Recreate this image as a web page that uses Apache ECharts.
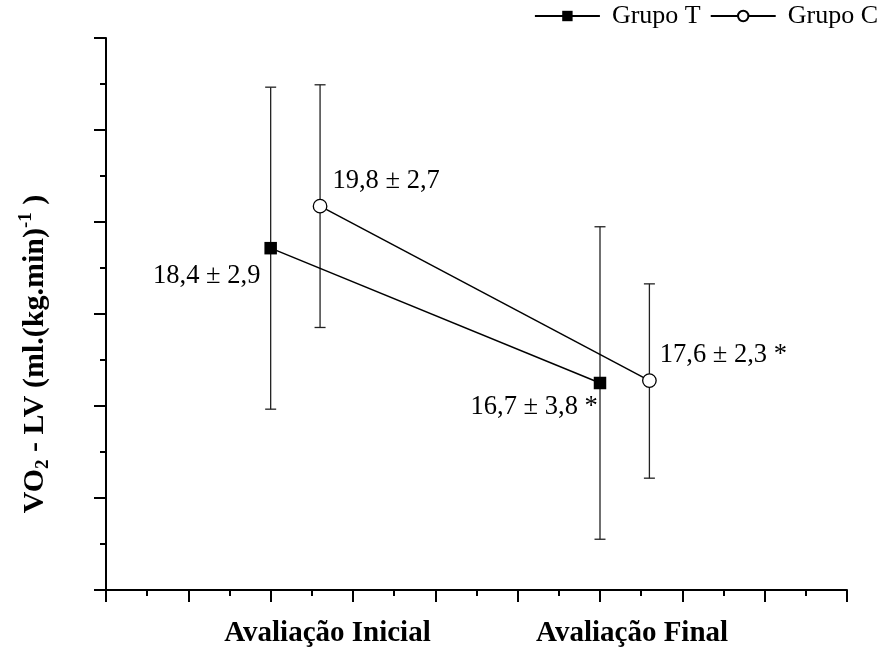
<!DOCTYPE html>
<html>
<head>
<meta charset="utf-8">
<script src="https://cdn.jsdelivr.net/npm/echarts@6/dist/echarts.min.js"></script>
<style>
html, body { margin: 0; padding: 0; background: #fff; }
#chart { width: 885px; height: 649px; }
</style>
</head>
<body>
<div id="chart"></div>
<script>
// Evaluation moments
const categories = ['Avaliação Inicial', 'Avaliação Final'];
// Group names
const groups = ['Grupo T', 'Grupo C'];
// VO2 at the ventilatory threshold: mean and standard deviation per moment
const tMean = [18.4, 16.7];
const tSd = [2.9, 3.8];
const cMean = [19.8, 17.6];
const cSd = [2.7, 2.3];
// Significance flag for each moment
const tSig = ['', '*'];
const cSig = ['', '*'];
// Lower and upper ends of the error bars
const tLow = [16.37, 14.73];
const tHigh = [20.43, 18.67];
const cLow = [18.27, 16.37];
const cHigh = [21.33, 18.82];

const SERIF = '"Liberation Serif", "Times New Roman", serif';

// Horizontal layout: each moment has a slot, group C is drawn slightly to the right
const slot = [2, 6];
const dodgeC = 0.6;
const labelAt = [2.69, 6.39];

function fmt(v) { return v.toFixed(1).replace('.', ','); }
function statText(mean, sd, sig) {
  return fmt(mean) + ' ± ' + fmt(sd) + (sig ? ' ' + sig : '');
}

function renderErrorBar(params, api) {
  const x = api.value(0);
  const top = api.coord([x, api.value(2)]);
  const bottom = api.coord([x, api.value(1)]);
  const half = 5.5;
  const style = { stroke: '#222', lineWidth: 1.3 };
  return {
    type: 'group',
    children: [
      { type: 'line', shape: { x1: top[0], y1: top[1], x2: bottom[0], y2: bottom[1] }, style: style },
      { type: 'line', shape: { x1: top[0] - half, y1: top[1], x2: top[0] + half, y2: top[1] }, style: style },
      { type: 'line', shape: { x1: bottom[0] - half, y1: bottom[1], x2: bottom[0] + half, y2: bottom[1] }, style: style }
    ]
  };
}

const tPlace = [
  { position: 'left', distance: 4, offset: [0, 28] },
  { position: 'left', distance: 0, offset: [4, 24] }
];
const cPlace = [
  { position: 'right', distance: 5, offset: [0, -25.5] },
  { position: 'right', distance: 3, offset: [0, -25.7] }
];

const tData = categories.map((c, i) => ({ value: [slot[i], tMean[i]], label: tPlace[i] }));
const cData = categories.map((c, i) => ({ value: [slot[i] + dodgeC, cMean[i]], label: cPlace[i] }));
const tErr = categories.map((c, i) => [slot[i], tLow[i], tHigh[i]]);
const cErr = categories.map((c, i) => [slot[i] + dodgeC, cLow[i], cHigh[i]]);

const labelStyle = { show: true, fontFamily: SERIF, fontSize: 26.5, color: '#000' };
const axisLineStyle = { color: '#000', width: 2 };

const chart = echarts.init(document.getElementById('chart'), null, { renderer: 'canvas' });
chart.setOption({
  animation: false,
  backgroundColor: '#fff',
  grid: { left: 106, right: 38, top: 38, bottom: 59 },
  legend: {
    data: groups,
    right: 2,
    top: -2,
    itemWidth: 65,
    itemHeight: 13,
    itemGap: 9,
    textStyle: { fontFamily: SERIF, fontSize: 26, color: '#000', padding: [0, 0, 0, 7] }
  },
  xAxis: {
    type: 'value',
    min: 0,
    max: 9,
    interval: 1,
    axisLine: { show: true, onZero: false, lineStyle: axisLineStyle },
    axisTick: { show: true, length: 12, lineStyle: axisLineStyle },
    minorTick: { show: true, splitNumber: 2, length: 6, lineStyle: axisLineStyle },
    splitLine: { show: false },
    axisLabel: {
      customValues: labelAt,
      formatter: function (v) {
        const i = labelAt.findIndex(a => Math.abs(a - v) < 1e-6);
        return i >= 0 ? categories[i] : '';
      },
      margin: 29,
      fontFamily: SERIF,
      fontSize: 29,
      fontWeight: 'bold',
      color: '#000'
    }
  },
  yAxis: [
    {
      type: 'value',
      min: 0,
      max: 6,
      interval: 1,
      axisLine: { show: true, onZero: false, lineStyle: axisLineStyle },
      axisTick: { show: true, length: 12, lineStyle: axisLineStyle },
      minorTick: { show: true, splitNumber: 2, length: 6, lineStyle: axisLineStyle },
      splitLine: { show: false },
      axisLabel: { show: false }
    },
    { type: 'value', min: 14.09, max: 21.05, show: false },
    { type: 'value', min: 14.96, max: 21.92, show: false }
  ],
  graphic: [{
    type: 'text',
    x: 35,
    y: 354,
    rotation: Math.PI / 2,
    style: {
      text: '{b|VO}{s|2}{b| - LV (ml.(kg.min)}{p|-1}{b| )}',
      align: 'center',
      verticalAlign: 'middle',
      fill: '#000',
      rich: {
        b: { fontFamily: SERIF, fontSize: 30, fontWeight: 'bold', lineHeight: 36, verticalAlign: 'middle' },
        s: { fontFamily: SERIF, fontSize: 19, fontWeight: 'bold', lineHeight: 18, verticalAlign: 'bottom' },
        p: { fontFamily: SERIF, fontSize: 19, fontWeight: 'bold', lineHeight: 18, verticalAlign: 'top' }
      }
    }
  }],
  series: [
    {
      name: 'erro T',
      type: 'custom',
      yAxisIndex: 1,
      renderItem: renderErrorBar,
      data: tErr,
      z: 1,
      silent: true
    },
    {
      name: 'erro C',
      type: 'custom',
      yAxisIndex: 2,
      renderItem: renderErrorBar,
      data: cErr,
      z: 1,
      silent: true
    },
    {
      name: groups[0],
      type: 'line',
      yAxisIndex: 1,
      data: tData,
      symbol: 'rect',
      symbolSize: 12.5,
      itemStyle: { color: '#000' },
      lineStyle: { color: '#000', width: 1.5 },
      label: Object.assign({}, labelStyle, {
        formatter: p => statText(tMean[p.dataIndex], tSd[p.dataIndex], tSig[p.dataIndex])
      }),
      z: 3
    },
    {
      name: groups[1],
      type: 'line',
      yAxisIndex: 2,
      data: cData,
      symbol: 'circle',
      symbolSize: 13.5,
      itemStyle: { color: '#fff', borderColor: '#000', borderWidth: 1.3 },
      lineStyle: { color: '#000', width: 1.5 },
      label: Object.assign({}, labelStyle, {
        formatter: p => statText(cMean[p.dataIndex], cSd[p.dataIndex], cSig[p.dataIndex])
      }),
      z: 3
    }
  ]
});
</script>
</body>
</html>
